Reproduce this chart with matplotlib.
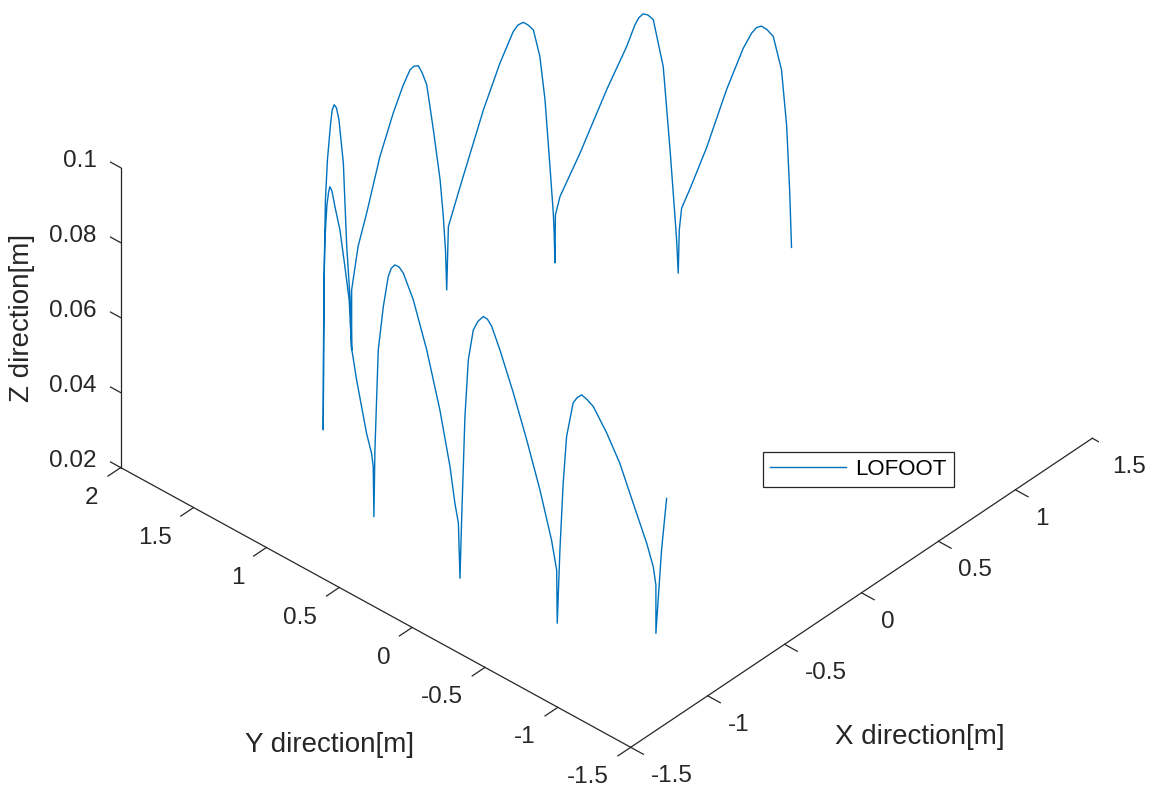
import numpy as np
import matplotlib
matplotlib.use("Agg")
import matplotlib.pyplot as plt
from mpl_toolkits.mplot3d import proj3d

# LOFOOT marker path (m), one row per step: curved walk, turn, walk back
x_m = [1.298, 1.295, 1.291, 1.283, 1.271, 1.261, 1.253, 1.246, 1.238, 1.226, 1.201, 1.171, 1.146, 1.134, 1.131, 1.129,
       1.125, 1.121, 1.109, 1.092, 1.067, 1.054, 1.042, 1.031, 1.022, 1.001, 0.951, 0.885, 0.836, 0.824, 0.823,
       0.819, 0.816, 0.802, 0.781, 0.759, 0.731, 0.708, 0.688, 0.665, 0.646, 0.589, 0.518, 0.419, 0.369, 0.362,
       0.354, 0.340, 0.320, 0.278, 0.236, 0.207, 0.183, 0.156, 0.131, 0.087, 0.026, -0.058, -0.141, -0.195, -0.236, -0.236,
       -0.245, -0.265, -0.321, -0.379, -0.452, -0.495, -0.533, -0.567, -0.597, -0.648, -0.683, -0.700, -0.711, -0.720,
       -0.721, -0.725, -0.732, -0.745, -0.755, -0.765, -0.779, -0.799, -0.832, -0.866, -0.895, -0.910, -0.945, -1.012,
       -1.046, -1.056, -1.061,
       -1.062, -1.065, -1.069, -1.074, -1.077, -1.080, -1.083, -1.087, -1.096, -1.108, -1.120, -1.129, -1.134, -1.136,
       -1.138,
       -1.137, -1.136, -1.134, -1.132, -1.130, -1.127, -1.125, -1.123, -1.120, -1.113, -1.107, -1.101, -1.096, -1.093,
       -1.093,
       -1.087, -1.079, -1.071, -1.055, -1.046, -1.035, -1.022, -1.007, -0.975, -0.944, -0.912, -0.880, -0.864, -0.858,
       -0.858,
       -0.853, -0.845, -0.833]
y_m = [0.351, 0.360, 0.377, 0.404, 0.448, 0.482, 0.510, 0.537, 0.562, 0.607, 0.694, 0.800, 0.888, 0.932, 0.945, 0.950,
       0.957, 0.964, 0.985, 1.014, 1.056, 1.079, 1.099, 1.117, 1.134, 1.169, 1.254, 1.367, 1.452, 1.471, 1.473,
       1.475, 1.477, 1.485, 1.497, 1.509, 1.524, 1.537, 1.548, 1.561, 1.572, 1.603, 1.642, 1.697, 1.725, 1.729,
       1.729, 1.730, 1.730, 1.732, 1.733, 1.734, 1.735, 1.736, 1.737, 1.739, 1.741, 1.744, 1.747, 1.749, 1.750, 1.750,
       1.744, 1.731, 1.694, 1.656, 1.609, 1.581, 1.556, 1.534, 1.514, 1.481, 1.458, 1.447, 1.440, 1.434,
       1.431, 1.424, 1.410, 1.382, 1.361, 1.341, 1.312, 1.270, 1.201, 1.131, 1.071, 1.040, 0.967, 0.828,
       0.758, 0.736, 0.726,
       0.718, 0.692, 0.653, 0.614, 0.590, 0.562, 0.530, 0.497, 0.419, 0.314, 0.211, 0.132, 0.093, 0.067,
       0.054,
       0.043, 0.022, 0.001, -0.031, -0.061, -0.094, -0.121, -0.148, -0.201, -0.286, -0.371, -0.456, -0.530, -0.562,
       -0.566,
       -0.578, -0.592, -0.607, -0.635, -0.652, -0.672, -0.695, -0.723, -0.781, -0.838, -0.896, -0.955, -0.983, -0.995,
       -0.995,
       -1.005, -1.020, -1.042]
z_m = [0.0370, 0.0515, 0.0691, 0.0837, 0.0920, 0.0934, 0.0939, 0.0931, 0.0913, 0.0866, 0.0745, 0.0575, 0.0453, 0.0396,
       0.0336, 0.0220,
       0.0309, 0.0370, 0.0547, 0.0768, 0.0891, 0.0902, 0.0904, 0.0893, 0.0873, 0.0813, 0.0693, 0.0518, 0.0398, 0.0348,
       0.0220,
       0.0309, 0.0354, 0.0480, 0.0662, 0.0781, 0.0856, 0.0873, 0.0883, 0.0879, 0.0865, 0.0790, 0.0676, 0.0487, 0.0388,
       0.0220,
       0.0329, 0.0426, 0.0525, 0.0670, 0.0801, 0.0841, 0.0866, 0.0872, 0.0869, 0.0838, 0.0782, 0.0688, 0.0560, 0.0485,
       0.0380, 0.0220,
       0.0304, 0.0374, 0.0531, 0.0778, 0.0923, 0.0973, 0.0997, 0.0997, 0.0970, 0.0898, 0.0805, 0.0652, 0.0443, 0.0207,
       0.0421, 0.0584, 0.0722, 0.0825, 0.0864, 0.0888, 0.0887, 0.0859, 0.0821, 0.0747, 0.0679, 0.0565, 0.0501, 0.0407,
       0.0378, 0.0350, 0.0220,
       0.0400, 0.0673, 0.0798, 0.0888, 0.0916, 0.0932, 0.0934, 0.0926, 0.0874, 0.0766, 0.0631, 0.0499, 0.0411, 0.0364,
       0.0220,
       0.0387, 0.0658, 0.0813, 0.0899, 0.0928, 0.0947, 0.0945, 0.0931, 0.0879, 0.0780, 0.0672, 0.0554, 0.0435, 0.0361,
       0.0220,
       0.0416, 0.0595, 0.0721, 0.0812, 0.0827, 0.0836, 0.0825, 0.0808, 0.0741, 0.0664, 0.0561, 0.0458, 0.0397, 0.0349,
       0.0220,
       0.0309, 0.0444, 0.0583]

x_ticks = [-1.5, -1, -0.5, 0, 0.5, 1, 1.5]
y_ticks = [-1.5, -1, -0.5, 0, 0.5, 1, 1.5, 2]
z_ticks = [0.02, 0.04, 0.06, 0.08, 0.1]

AXIS_COLOR = "#262626"
LINE_COLOR = "#0072BD"
W_PX, H_PX = 1156, 787

plt.rcParams["font.family"] = ["Liberation Sans", "DejaVu Sans"]

fig = plt.figure(figsize=(W_PX / 100, H_PX / 100), dpi=100)
ax = fig.add_axes([0.1, 0.1, 0.5, 0.5 * W_PX / H_PX], projection="3d", proj_type="ortho")

ax.plot(x_m, y_m, z_m, color=LINE_COLOR, lw=1.0, label="LOFOOT")

xmin, xmax = x_ticks[0], x_ticks[-1]
ymin, ymax = y_ticks[0], y_ticks[-1]
zmin, zmax = z_ticks[0], z_ticks[-1]
ax.set_xlim(xmin, xmax)
ax.set_ylim(ymin, ymax)
ax.set_zlim(zmin, zmax)
ax.set_box_aspect((1, 1, 0.548))
ax.view_init(elev=37.3, azim=-137.85)
ax.set_axis_off()

# axis rulers on the front floor edges and the left upright, ticks pointing out
ax_kw = dict(color=AXIS_COLOR, lw=0.9)
ax.plot([xmin, xmax], [ymin, ymin], [zmin, zmin], **ax_kw)
ax.plot([xmin, xmin], [ymin, ymax], [zmin, zmin], **ax_kw)
ax.plot([xmin, xmin], [ymax, ymax], [zmin, zmax], **ax_kw)
for v in x_ticks:
    ax.plot([v, v], [ymin, ymin - 0.087], [zmin, zmin], **ax_kw)
for v in y_ticks:
    ax.plot([xmin, xmin - 0.083], [v, v], [zmin, zmin], **ax_kw)
for v in z_ticks:
    ax.plot([xmin, xmin], [ymax, ymax + 0.07], [v, v], **ax_kw)


def project(xs, ys, zs):
    """3D data points -> display pixels through the axes' own projection"""
    px, py, _ = proj3d.proj_transform(np.asarray(xs, float), np.asarray(ys, float),
                                      np.asarray(zs, float), ax.get_proj())
    return ax.transData.transform(np.column_stack([px, py]))


# scale and shift the square 3D axes so the floor corner sits at (630.7, 747.3) px
# and the X ruler spans 461.6 px horizontally
fig.canvas.draw()
ends = project([xmin, xmax], [ymin, ymin], [zmin, zmin])
pos = ax.get_position()
x0, y0, side = pos.x0 * W_PX, pos.y0 * H_PX, pos.width * W_PX
k = 461.6 / (ends[1, 0] - ends[0, 0])
nx0 = 630.7 - (ends[0, 0] - x0) * k
ny0 = (H_PX - 747.3) - (ends[0, 1] - y0) * k
ax.set_position([nx0 / W_PX, ny0 / H_PX, side * k / W_PX, side * k / H_PX])
fig.canvas.draw()

# tick labels, anchored just outside each tick
txt_kw = dict(color=AXIS_COLOR, fontsize=17.5, va="center")
n = len(x_ticks)
for (px, py), v in zip(project(x_ticks, [ymin - 0.137] * n, [zmin - 0.0048] * n), x_ticks):
    fig.text(px / W_PX, py / H_PX, f"{v:g}", ha="left", **txt_kw)
n = len(y_ticks)
for (px, py), v in zip(project([xmin - 0.143] * n, y_ticks, [zmin - 0.0041] * n), y_ticks):
    fig.text(px / W_PX, py / H_PX, f"{v:g}", ha="right", **txt_kw)
n = len(z_ticks)
for (px, py), v in zip(project([xmin] * n, [ymax + 0.165] * n, np.array(z_ticks) - 0.0017), z_ticks):
    fig.text(px / W_PX, py / H_PX, f"{v:g}", ha="right", **txt_kw)

lab_kw = dict(color=AXIS_COLOR, fontsize=20, ha="center", va="center")
fig.text(920 / W_PX, 1 - 737 / H_PX, "X direction[m]", **lab_kw)
fig.text(330 / W_PX, 1 - 745 / H_PX, "Y direction[m]", **lab_kw)
fig.text(21.7 / W_PX, 1 - 318 / H_PX, "Z direction[m]", rotation=90, **lab_kw)

leg = ax.legend(loc="upper left", bbox_to_anchor=(762.7 / W_PX, 1 - 451.7 / H_PX),
                bbox_transform=fig.transFigure, borderaxespad=0, fontsize=16,
                fancybox=False, framealpha=1, edgecolor=AXIS_COLOR,
                handlelength=3.4, handletextpad=0.42, borderpad=0.33)
leg.get_frame().set_linewidth(0.9)

fig.savefig("out.png", dpi=100)
